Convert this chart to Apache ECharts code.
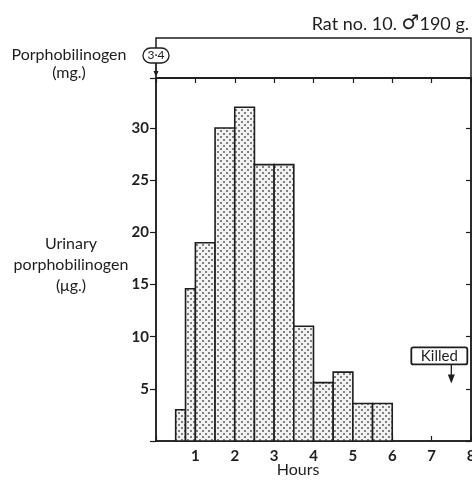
<!DOCTYPE html>
<html>
<head>
<meta charset="utf-8">
<script src="https://cdn.jsdelivr.net/npm/echarts@6/dist/echarts.min.js"></script>
<style>
  html, body { margin: 0; background: #fff; }
  #chart { width: 472px; height: 480px; }
</style>
</head>
<body>
<div id="chart"></div>
<script>
// urinary porphobilinogen per collection period (hours, ug)
var binStart = [0.5, 0.75, 1, 1.5, 2, 2.5, 3, 3.5, 4, 4.5, 5, 5.5];
var binEnd   = [0.75, 1, 1.5, 2, 2.5, 3, 3.5, 4, 4.5, 5, 5.5, 6];
var urinary  = [3, 14.6, 19, 30, 32, 26.5, 26.5, 11, 5.6, 6.6, 3.6, 3.6];
var hourTicks = [1, 2, 3, 4, 5, 6, 7, 8];
var yTicks = [5, 10, 15, 20, 25, 30];
// dose given (mg) and time of death
var doseHour = [0];
var doseMg = ['3·4'];
var killedHour = [7.5];
var killedLevel = [8.2];

var FONT = 'Lato';
var INK = '#1e1e1e';

function dotPattern() {
  var c = document.createElement('canvas');
  c.width = 6; c.height = 6;
  var g = c.getContext('2d');
  g.fillStyle = '#f2f2f2';
  g.fillRect(0, 0, 6, 6);
  g.fillStyle = '#808080';
  g.fillRect(1, 1, 2, 2);
  g.fillRect(4, 4, 2, 2);
  return c;
}

var chart = echarts.init(document.getElementById('chart'));
var pattern = { image: dotPattern(), repeat: 'repeat' };

var bars = binStart.map(function (s, i) { return [s, binEnd[i], urinary[i]]; });

var option = {
  backgroundColor: '#fff',
  animation: false,
  grid: [
    { left: 156, right: 1, top: 38, height: 40, outerBoundsMode: 'none', show: true, borderColor: INK, borderWidth: 1.5 },
    { left: 156, right: 1, top: 78, bottom: 39, outerBoundsMode: 'none', show: true, borderColor: INK, borderWidth: 1.5 }
  ],
  xAxis: [{
    gridIndex: 0, type: 'value', position: 'top', min: 0, max: 8, interval: 1,
    axisLine: { show: true, lineStyle: { color: INK, width: 1.5 } },
    axisTick: { inside: true, length: 5, lineStyle: { color: INK, width: 1.2 } },
    axisLabel: { show: false }, splitLine: { show: false }
  }, {
    gridIndex: 1, type: 'value', min: 0, max: 8, interval: 1,
    axisLine: { show: true, lineStyle: { color: INK, width: 1.5 } },
    axisTick: { inside: true, length: 5, lineStyle: { color: INK, width: 1.2 } },
    axisLabel: {
      color: INK, fontFamily: FONT, fontSize: 15, fontWeight: 'bold', margin: 8,
      formatter: function (v) { return hourTicks.indexOf(v) >= 0 ? String(v) : ''; }
    },
    splitLine: { show: false }
  }],
  yAxis: [{
    gridIndex: 0, type: 'value', min: 0, max: 1,
    axisLine: { show: false }, axisTick: { show: false }, axisLabel: { show: false }, splitLine: { show: false }
  }, {
    gridIndex: 1, type: 'value', min: 0, max: 34.8, interval: 5,
    axisLine: { show: true, lineStyle: { color: INK, width: 1.5 } },
    axisTick: { length: 6, lineStyle: { color: INK, width: 1.2 } },
    axisLabel: {
      color: INK, fontFamily: FONT, fontSize: 15, fontWeight: 'bold', margin: 7,
      formatter: function (v) { return yTicks.indexOf(v) >= 0 ? String(v) : ''; }
    },
    splitLine: { show: false }
  }, {
    gridIndex: 1, type: 'value', position: 'right', min: 0, max: 34.8, interval: 5,
    axisLine: { show: true, lineStyle: { color: INK, width: 1.5 } },
    axisTick: { inside: true, length: 5, lineStyle: { color: INK, width: 1.2 } },
    axisLabel: { show: false }, splitLine: { show: false }
  }],
  series: [{
    type: 'custom',
    xAxisIndex: 1, yAxisIndex: 1,
    data: bars,
    renderItem: function (params, api) {
      var p0 = api.coord([api.value(0), api.value(2)]);
      var p1 = api.coord([api.value(1), 0]);
      return {
        type: 'rect',
        shape: { x: p0[0], y: p0[1], width: p1[0] - p0[0], height: p1[1] - p0[1] },
        style: { fill: pattern, stroke: INK, lineWidth: 1.6 }
      };
    },
    z: 3
  }, {
    // dose marker in the upper panel
    type: 'custom',
    xAxisIndex: 0, yAxisIndex: 0,
    data: doseHour.map(function (h, i) { return [h, 0]; }),
    renderItem: function (params, api) {
      var p = api.coord([api.value(0), 0]);
      var txt = doseMg[params.dataIndex];
      return {
        type: 'group',
        children: [{
          type: 'rect',
          shape: { x: p[0] - 13, y: p[1] - 30, width: 26, height: 15, r: 7.5 },
          style: { fill: '#fff', stroke: INK, lineWidth: 1.3 }
        }, {
          type: 'text',
          style: { x: p[0], y: p[1] - 22.5, text: txt, fill: INK, font: '12px ' + FONT, align: 'center', verticalAlign: 'middle' }
        }, {
          type: 'line',
          shape: { x1: p[0], y1: p[1] - 15, x2: p[0], y2: p[1] - 4 },
          style: { stroke: INK, lineWidth: 1.2 }
        }, {
          type: 'polygon',
          shape: { points: [[p[0] - 2.5, p[1] - 7], [p[0] + 2.5, p[1] - 7], [p[0], p[1] - 1]] },
          style: { fill: INK }
        }]
      };
    },
    z: 5
  }, {
    // time the animal was killed
    type: 'custom',
    xAxisIndex: 1, yAxisIndex: 1,
    data: killedHour.map(function (h, i) { return [h, killedLevel[i]]; }),
    renderItem: function (params, api) {
      var p = api.coord([api.value(0), api.value(1)]);
      return {
        type: 'group',
        children: [{
          type: 'rect',
          shape: { x: p[0] - 40, y: p[1] - 8, width: 56, height: 17, r: 2 },
          style: { fill: '#fff', stroke: INK, lineWidth: 1.8 }
        }, {
          type: 'text',
          style: { x: p[0] - 12, y: p[1] + 0.5, text: 'Killed', fill: INK, font: '15px ' + FONT, align: 'center', verticalAlign: 'middle' }
        }, {
          type: 'line',
          shape: { x1: p[0], y1: p[1] + 9, x2: p[0], y2: p[1] + 22 },
          style: { stroke: INK, lineWidth: 1.3 }
        }, {
          type: 'polygon',
          shape: { points: [[p[0] - 3.5, p[1] + 19], [p[0] + 3.5, p[1] + 19], [p[0], p[1] + 28]] },
          style: { fill: INK }
        }]
      };
    },
    z: 5
  }],
  graphic: [{
    type: 'text', x: 469, y: 14,
    style: {
      text: '{t|Rat no. 10. }{s|\u2642}{t|190 g.}', align: 'right',
      rich: {
        t: { fill: INK, fontFamily: FONT, fontSize: 18 },
        s: { fill: INK, fontFamily: 'DejaVu Sans', fontSize: 20 }
      }
    }
  }, {
    type: 'text', x: 69, y: 46,
    style: { text: 'Porphobilinogen\n(mg.)', fill: INK, font: '16px ' + FONT, align: 'center', lineHeight: 18 }
  }, {
    type: 'text', x: 71, y: 233,
    style: { text: 'Urinary\nporphobilinogen\n(\u03bcg.)', fill: INK, font: '16px ' + FONT, align: 'center', lineHeight: 21 }
  }, {
    type: 'text', x: 298, y: 462,
    style: { text: 'Hours', fill: INK, font: '16px ' + FONT, align: 'center' }
  }]
};

chart.setOption(option);
</script>
</body>
</html>
